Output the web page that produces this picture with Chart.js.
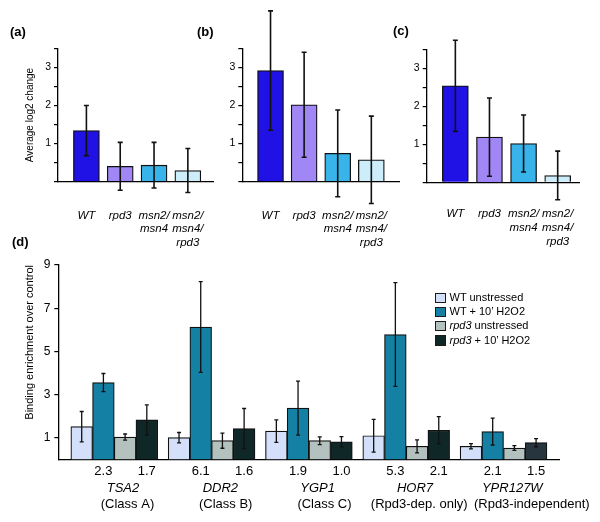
<!DOCTYPE html>
<html>
<head>
<meta charset="utf-8">
<script src="https://cdn.jsdelivr.net/npm/chart.js@4"></script>
<style>
  body { margin: 0; background: #fff; font-family: "Liberation Sans", Arial, Helvetica, sans-serif; }
  #wrap { position: relative; width: 600px; height: 522px; overflow: hidden; }
  canvas, .tag, #legend { position: absolute; }
  .tag { font-weight: bold; font-size: 13px; line-height: 15px; }
  #legend { left: 435px; top: 290px; font-size: 11px; color: #000; }
  #legend div { height: 14.2px; line-height: 14px; white-space: nowrap; }
  #legend span { display: inline-block; width: 8.5px; height: 8.5px; border: 1.3px solid #1a1a1a; vertical-align: -2px; margin-right: 4px; }
</style>
</head>
<body>
<div id="wrap">
  <canvas id="ga" width="232" height="262" style="left:0;top:0"></canvas>
  <canvas id="gb" width="215" height="262" style="left:200px;top:0"></canvas>
  <canvas id="gc" width="210" height="262" style="left:390px;top:0"></canvas>
  <canvas id="gd" width="600" height="272" style="left:0;top:250px"></canvas>
  <div class="tag" style="left:10px;top:24px">(a)</div>
  <div class="tag" style="left:197px;top:24px">(b)</div>
  <div class="tag" style="left:393px;top:23px">(c)</div>
  <div class="tag" style="left:12px;top:234px">(d)</div>
  <div id="legend"></div>
</div>
<script>
// panels a-c: average log2 change per strain
const strains = ['WT', 'rpd3', ['msn2/', 'msn4'], ['msn2/', 'msn4/', 'rpd3']];
const strainColors = ['#2012e4', '#a187f6', '#38b4ea', '#cdedfa'];
const valsA = [1.34, 0.40, 0.43, 0.29];
const errsA = [0.66, 0.63, 0.60, 0.58];
const valsB = [2.92, 2.02, 0.74, 0.57];
const errsB = [1.57, 1.38, 1.14, 1.15];
const valsC = [2.54, 1.19, 1.02, 0.18];
const errsC = [1.20, 1.03, 0.75, 0.64];

// panel d: binding enrichment over control
const genes = ['TSA2', 'DDR2', 'YGP1', 'HOR7', 'YPR127W'];
const classes = ['(Class A)', '(Class B)', '(Class C)', '(Rpd3-dep. only)', '(Rpd3-independent)'];
const series = ['WT unstressed', 'WT + 10\u2019 H2O2', 'rpd3 unstressed', 'rpd3 + 10\u2019 H2O2'];
const wtUnstressed = [1.52, 1.01, 1.31, 1.10, 0.61];
const wtH2O2 = [3.56, 6.13, 2.38, 5.78, 1.29];
const rpd3Unstressed = [1.04, 0.87, 0.87, 0.61, 0.53];
const rpd3H2O2 = [1.83, 1.43, 0.82, 1.35, 0.78];
const wtUnstressedErr = [0.70, 0.24, 0.52, 0.76, 0.12];
const wtH2O2Err = [0.42, 2.10, 1.25, 2.40, 0.62];
const rpd3UnstressedErr = [0.14, 0.35, 0.18, 0.30, 0.11];
const rpd3H2O2Err = [0.70, 0.93, 0.24, 0.63, 0.19];
const foldWT = ['2.3', '6.1', '1.9', '5.3', '2.1'];
const foldRpd3 = ['1.7', '1.6', '1.0', '2.1', '1.5'];
const bindTicks = [1, 3, 5, 7, 9];

const seriesColors = ['#d4dffa', '#1480a4', '#b4c2bf', ['#102727', '#102727', '#102727', '#102727', '#27353f']];

// label placement inside a group, in x-axis units
const NUM_SHIFT = [-0.1115, 0.3345];
const GENE_SHIFT = 0.09;
const CLASS_SHIFT = [0.136, 0.145, 0.16, 0.134, 0.29];

Chart.defaults.font.family = '"Liberation Sans", Arial, Helvetica, sans-serif';
Chart.defaults.color = '#000';

const errorBars = {
  id: 'errorBars',
  afterDatasetsDraw(chart, args, opts) {
    const ctx = chart.ctx;
    const y = chart.scales.y;
    ctx.save();
    ctx.strokeStyle = '#111';
    ctx.lineWidth = opts.width || 1.5;
    chart.data.datasets.forEach((ds, di) => {
      chart.getDatasetMeta(di).data.forEach((bar, i) => {
        const v = ds.data[i].y, e = ds.errors[i];
        const top = y.getPixelForValue(v + e), bot = y.getPixelForValue(v - e);
        const c = opts.cap || 2;
        ctx.beginPath();
        ctx.moveTo(bar.x, top); ctx.lineTo(bar.x, bot);
        ctx.moveTo(bar.x - c, top); ctx.lineTo(bar.x + c, top);
        ctx.moveTo(bar.x - c, bot); ctx.lineTo(bar.x + c, bot);
        ctx.stroke();
      });
    });
    ctx.restore();
  }
};
Chart.register(errorBars);

function smallPanel(id, vals, errs, geo, title) {
  new Chart(document.getElementById(id), {
    type: 'bar',
    data: {
      datasets: [{
        data: vals.map((v, i) => ({ x: i + 1, y: v })),
        errors: errs,
        backgroundColor: strainColors,
        borderColor: '#111',
        borderWidth: 1.3,
        barThickness: 26
      }]
    },
    options: {
      responsive: false,
      animation: false,
      layout: { autoPadding: false, padding: { left: 0, right: geo.right, top: geo.top, bottom: 0 } },
      plugins: { legend: { display: false }, tooltip: { enabled: false }, errorBars: { cap: 2.5, width: 1.6 } },
      scales: {
        x: {
          type: 'linear', min: 0.16, max: geo.xmax, offset: false,
          grid: { display: false, drawTicks: false, offset: false },
          border: { color: '#000', width: 1.3 },
          afterBuildTicks: s => { s.ticks = strains.map((_, i) => ({ value: i + 1 })); },
          afterFit: s => { s.height = geo.xh; },
          ticks: { maxRotation: 0, minRotation: 0, autoSkip: false, padding: geo.pad, color: '#000',
                   font: { size: 11.5, style: 'italic' }, callback: (v, i) => strains[i] }
        },
        y: {
          min: 0, max: 3.5,
          afterFit: s => { s.width = geo.yw; },
          ticks: { stepSize: 0.5, padding: 3, color: '#000', font: { size: 10.5 },
                   callback: v => (v >= 1 && v % 1 === 0) ? v : '' },
          grid: { drawOnChartArea: false, tickLength: 4, color: '#000', lineWidth: 1.2 },
          border: { color: '#000', width: 1.3 },
          title: title
            ? { display: true, text: title, color: '#000', font: { size: 10 }, padding: { top: 24, bottom: 0 } }
            : { display: false }
        }
      }
    }
  });
}

smallPanel('ga', valsA, errsA, { right: 9, top: 48.5, xh: 80.5, yw: 58, xmax: 4.76, pad: 27 }, 'Average log2 change');
smallPanel('gb', valsB, errsB, { right: 5.7, top: 48.5, xh: 80.5, yw: 42.3, xmax: 4.83, pad: 27 });
smallPanel('gc', valsC, errsC, { right: 11.7, top: 49.3, xh: 79.7, yw: 36.7, xmax: 4.63, pad: 25 });

const dVals = [wtUnstressed, wtH2O2, rpd3Unstressed, rpd3H2O2];
const dErrs = [wtUnstressedErr, wtH2O2Err, rpd3UnstressedErr, rpd3H2O2Err];
const DMIN = 0.425, DMAX = 5.57;

function labelAxis(weight, height, pad, font, positions, labels) {
  return {
    type: 'linear', position: 'bottom', min: DMIN, max: DMAX, offset: false, weight: weight,
    grid: { display: false, drawTicks: false, offset: false },
    border: { display: weight === 0, color: '#000', width: 1.3 },
    afterBuildTicks: s => { s.ticks = positions.map(v => ({ value: v })); },
    afterFit: s => { s.height = height; },
    ticks: { maxRotation: 0, minRotation: 0, autoSkip: false, padding: pad, color: '#000', font: font,
             callback: (v, i) => labels[i] }
  };
}

const numPos = [], numLabels = [];
genes.forEach((g, i) => {
  numPos.push(i + 1 + NUM_SHIFT[0], i + 1 + NUM_SHIFT[1]);
  numLabels.push(foldWT[i], foldRpd3[i]);
});

new Chart(document.getElementById('gd'), {
  type: 'bar',
  data: {
    datasets: series.map((name, k) => ({
      label: name,
      data: dVals[k].map((v, i) => ({ x: i + 1, y: v })),
      errors: dErrs[k],
      backgroundColor: seriesColors[k],
      borderColor: '#111',
      borderWidth: 1.2,
      barThickness: 21.7,
      xAxisID: 'x',
      yAxisID: 'y'
    }))
  },
  options: {
    responsive: false,
    animation: false,
    layout: { autoPadding: false, padding: { left: 0, right: 41, top: 15, bottom: 0 } },
    plugins: { legend: { display: false }, tooltip: { enabled: false }, errorBars: { cap: 2, width: 1.3 } },
    scales: {
      x: labelAxis(0, 20.8, 4, { size: 13 }, numPos, numLabels),
      xGene: labelAxis(1, 16, 0.2, { size: 13, style: 'italic' }, genes.map((_, i) => i + 1 + GENE_SHIFT), genes),
      xClass: labelAxis(2, 25.7, 0, { size: 13 }, classes.map((_, i) => i + 1 + CLASS_SHIFT[i]), classes),
      y: {
        min: 0, max: 9,
        afterBuildTicks: s => { s.ticks = bindTicks.map(v => ({ value: v })); },
        afterFit: s => { s.width = 58.3; },
        ticks: { padding: 4, color: '#000', font: { size: 12 } },
        grid: { drawOnChartArea: false, tickLength: 4, color: '#000', lineWidth: 1.2 },
        border: { color: '#000', width: 1.3 },
        title: { display: true, text: 'Binding enrichment over control', align: 'end', color: '#000',
                 font: { size: 11 }, padding: { top: 23.4, bottom: 0 } }
      }
    }
  }
});

document.getElementById('legend').innerHTML = series.map((name, k) => {
  const c = Array.isArray(seriesColors[k]) ? seriesColors[k][0] : seriesColors[k];
  return '<div><span style="background:' + c + '"></span>' + name.replace(/^rpd3/, '<i>rpd3</i>') + '</div>';
}).join('');
</script>
</body>
</html>
